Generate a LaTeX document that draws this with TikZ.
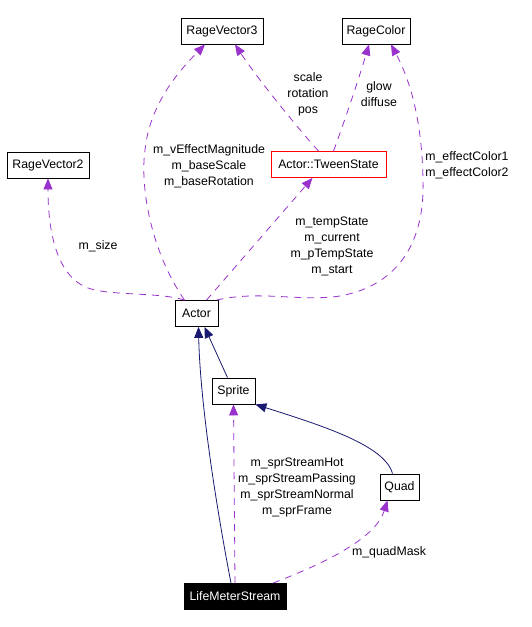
\documentclass[tikz,border=0pt]{standalone}
\usepackage{fontspec}
\setmainfont{Liberation Sans}
\usetikzlibrary{arrows.meta}
\definecolor{orchide}{HTML}{9A32CD}
\definecolor{nuit}{HTML}{191970}

\begin{document}
\begin{tikzpicture}[x=1pt,y=-1pt]
\tikzset{classe/.style={draw, minimum height=26pt, inner sep=0pt, line width=0.8pt, font={\fontsize{12.3}{16}\selectfont}}}
\tikzset{etiq/.style={align=center, inner sep=0pt, font={\fontsize{12.3}{16}\selectfont}}}
\tikzset{usage/.style={draw=orchide, line width=0.8pt, dash pattern=on 7pt off 6pt, -{Triangle[length=11pt,width=9pt,fill=orchide]}}}
\tikzset{herit/.style={draw=nuit, line width=0.8pt, -{Triangle[length=11pt,width=9pt,fill=nuit]}}}
\useasboundingbox (0,0) rectangle (531,627);
\node[classe, minimum width=82pt] (RV3) at (222,31) {RageVector3};
\node[classe, minimum width=68pt] (RC) at (376,31) {RageColor};
\node[classe, minimum width=82pt] (RV2) at (48,165) {RageVector2};
\node[classe, draw=red, minimum width=115pt] (TS) at (328.5,164.5) {Actor::TweenState};
\node[classe, minimum width=43pt] (A) at (196.5,313.5) {Actor};
\node[classe, minimum width=43pt] (S) at (233.5,391) {Sprite};
\node[classe, minimum width=39pt] (Q) at (399.5,487) {Quad};
\node[classe, fill=black, text=white, minimum width=102pt] (LMS) at (235,596.5) {LifeMeterStream};
\node[etiq] (L1) at (98,246) {m\_size};
\node[etiq] (L2) at (209,166) {m\_vEffectMagnitude\\m\_baseScale\\m\_baseRotation};
\node[etiq] (L3) at (308,94) {scale\\rotation\\pos};
\node[etiq] (L4) at (379,94) {glow\\diffuse};
\node[etiq] (L5) at (467,165) {m\_effectColor1\\m\_effectColor2};
\node[etiq] (L6) at (332,246) {m\_tempState\\m\_current\\m\_pTempState\\m\_start};
\node[etiq] (L7) at (297,487) {m\_sprStreamHot\\m\_sprStreamPassing\\m\_sprStreamNormal\\m\_sprFrame};
\node[etiq] (L8) at (389,552) {m\_quadMask};
\draw[usage] ([xshift=-12pt]A.north) .. controls (160,292) and (110,296) .. (88,288) .. controls (56,276) and (48,230) .. (RV2.south);
\draw[usage] ([xshift=-12pt]A.north) .. controls (150,250) and (140,185) .. (145,150) .. controls (150,100) and (185,65) .. ([xshift=-17pt]RV3.south);
\draw[usage] ([xshift=-10pt]TS.north) .. controls (295,125) and (255,75) .. ([xshift=13pt]RV3.south);
\draw[usage] ([xshift=5pt]TS.north) .. controls (345,120) and (360,75) .. ([xshift=-7pt]RC.south);
\draw[usage] ([xshift=10pt]A.north) -- ([xshift=-16pt]TS.south);
\draw[usage] ([xshift=20pt]A.north) .. controls (260,290) and (300,302) .. (340,296) .. controls (400,285) and (425,240) .. (423,180) .. controls (422,120) and (410,80) .. ([xshift=15pt]RC.south);
\draw[herit] ([xshift=-6pt]S.north) -- ([xshift=8pt]A.south);
\draw[herit] ([xshift=-4pt]LMS.north) .. controls (215,500) and (200,400) .. ([xshift=2pt]A.south);
\draw[herit] ([xshift=-7pt]Q.north) .. controls (385,445) and (320,425) .. (S.south east);
\draw[usage] (LMS.north) -- (S.south);
\draw[usage] ([xshift=38pt]LMS.north) .. controls (320,565) and (375,540) .. ([xshift=-12pt]Q.south);
\end{tikzpicture}
\end{document}
